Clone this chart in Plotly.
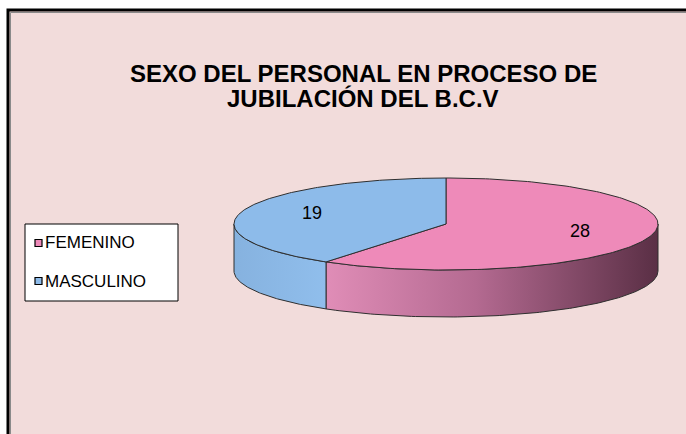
import numpy as np
import plotly.graph_objects as go

# ---- data ----
categories = ["FEMENINO", "MASCULINO"]
values = [28, 19]
title_lines = ["SEXO DEL PERSONAL EN PROCESO DE", "JUBILACIÓN DEL B.C.V"]

# ---- style ----
top_colors = ["#EE8AB9", "#8DBBEA"]
side_scales = [
    [[0, "#E08DB7"], [0.45, "#B46A91"], [1, "#5A2F45"]],
    [[0, "#86B2DF"], [1, "#90BEEC"]],
]
edge = "#2F2F2F"
FONT = "Arial, Liberation Sans, sans-serif"

W, H = 686, 434
CX, CY = 446, 224          # pie centre in pixels
RX = 212.0                 # horizontal radius (px) = 1 axis unit
K = 46.0 / RX              # tilt (vertical squash)
DEPTH = 47.0 / RX          # wall thickness in units

xr = [-CX / RX, (W - CX) / RX]
yr = [-(H - CY) / RX, CY / RX]


def px(x):
    return x / W


def py(y):
    return 1 - y / H


fig = go.Figure()

total = float(sum(values))
starts, ends = [], []
a = 90.0
for v in values:
    b = a - v / total * 360.0
    starts.append(a)
    ends.append(b)
    a = b

# walls (visible front part)
for i, cat in enumerate(categories):
    lo, hi = ends[i], starts[i]
    for k in range(-2, 3):
        f0, f1 = -180 + 360 * k, 360 * k
        s0, s1 = max(lo, f0), min(hi, f1)
        if s1 - s0 <= 0.01:
            continue
        t = np.radians(np.linspace(s0, s1, 120))
        xt = np.cos(t)
        yt = K * np.sin(t)
        xs = np.concatenate([xt, xt[::-1], xt[:1]])
        ys = np.concatenate([yt, (yt - DEPTH)[::-1], yt[:1]])
        fig.add_trace(go.Scatter(
            x=xs, y=ys, mode="lines", fill="toself",
            fillgradient=dict(type="horizontal", colorscale=side_scales[i]),
            line=dict(color=edge, width=1), showlegend=False, hoverinfo="skip"))

# top faces
for i, cat in enumerate(categories):
    t = np.radians(np.linspace(starts[i], ends[i], 200))
    xs = np.concatenate([[0], np.cos(t), [0]])
    ys = np.concatenate([[0], K * np.sin(t), [0]])
    fig.add_trace(go.Scatter(
        x=xs, y=ys, mode="lines", fill="toself", fillcolor=top_colors[i],
        line=dict(color=edge, width=1), name=cat, showlegend=False,
        hoverinfo="skip"))

# value labels at mid-angle
annotations = []
LR = 0.66
for i, v in enumerate(values):
    m = np.radians((starts[i] + ends[i]) / 2)
    annotations.append(dict(
        x=LR * np.cos(m), y=LR * K * np.sin(m) + 0.01, xref="x", yref="y",
        text=str(v), showarrow=False,
        font=dict(family=FONT, size=18, color="#000000")))

# title
title_y = [73, 98]
for line, ty in zip(title_lines, title_y):
    annotations.append(dict(
        x=px(363), y=py(ty), xref="paper", yref="paper", text=line,
        showarrow=False, xanchor="center", yanchor="middle",
        font=dict(family=FONT, size=24, color="#000000", weight="bold")))

shapes = [
    dict(type="rect", xref="paper", yref="paper", x0=px(8), x1=1.2,
         y0=-0.2, y1=py(10), fillcolor="#F2DCDB",
         line=dict(color="#000000", width=3), layer="below"),
    dict(type="line", xref="paper", yref="paper", x0=px(10.5), x1=1,
         y0=py(12.5), y1=py(12.5), line=dict(color="#8A8A8A", width=1),
         layer="below"),
    dict(type="line", xref="paper", yref="paper", x0=px(10.5), x1=px(10.5),
         y0=py(12.5), y1=0, line=dict(color="#8A8A8A", width=1),
         layer="below"),
]

# legend box
LX0, LX1, LY0, LY1 = 25, 178, 224, 301
shapes.append(dict(type="rect", xref="paper", yref="paper",
                   x0=px(LX0), x1=px(LX1), y0=py(LY1), y1=py(LY0),
                   fillcolor="#FFFFFF", line=dict(color="#000000", width=1)))
item_y = [243, 281]
for i, cat in enumerate(categories):
    yc = item_y[i]
    shapes.append(dict(type="rect", xref="paper", yref="paper",
                       x0=px(35), x1=px(42), y0=py(yc + 3.5), y1=py(yc - 3.5),
                       fillcolor=top_colors[i],
                       line=dict(color="#000000", width=1.2)))
    annotations.append(dict(
        x=px(43), y=py(yc), xref="paper", yref="paper", text=cat,
        showarrow=False, xanchor="left", yanchor="middle",
        font=dict(family=FONT, size=17, color="#000000")))

fig.update_layout(
    width=W, height=H, autosize=False,
    margin=dict(l=0, r=0, t=0, b=0),
    paper_bgcolor="#FFFFFF", plot_bgcolor="rgba(0,0,0,0)",
    xaxis=dict(range=xr, visible=False, fixedrange=True),
    yaxis=dict(range=yr, visible=False, fixedrange=True),
    shapes=shapes, annotations=annotations, showlegend=False,
)

fig.write_html("out.html",
               config={"displayModeBar": False},
               post_script="document.body.style.margin='0';"
                           "document.body.style.overflow='hidden';")
